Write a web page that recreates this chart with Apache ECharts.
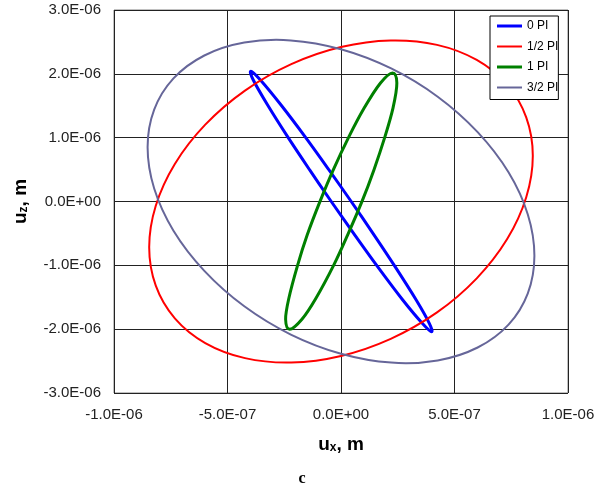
<!DOCTYPE html>
<html>
<head>
<meta charset="utf-8">
<script src="https://cdn.jsdelivr.net/npm/echarts@6/dist/echarts.min.js"></script>
<style>
  html, body { margin: 0; padding: 0; background: #fff; }
  #chart { width: 612px; height: 494px; }
</style>
</head>
<body>
<div id="chart"></div>
<script>
// values are in micrometres (1e-6 m); the axis labels print them in metres
const seriesNames = ['0 PI', '1/2 PI', '1 PI', '3/2 PI'];

const pi0 = [
  [-0.397, 2.041], [-0.356, 1.907], [-0.265, 1.515], [-0.157, 1.008], [-0.053, 0.495],
  [0.045, 0.000], [0.146, -0.526], [0.239, -1.024], [0.332, -1.547], [0.389, -1.908],
  [0.399, -2.041], [0.358, -1.908], [0.273, -1.547], [0.162, -1.024], [0.061, -0.526],
  [-0.043, 0.000], [-0.138, 0.495], [-0.234, 1.008], [-0.324, 1.515], [-0.387, 1.907]
];

const pi12 = [
  [0.845, 0.717], [0.816, 0.066], [0.732, -0.589], [0.598, -1.204], [0.423, -1.738],
  [0.219, -2.152], [0.000, -2.420], [-0.219, -2.523], [-0.423, -2.454], [-0.598, -2.218],
  [-0.732, -1.831], [-0.816, -1.319], [-0.845, -0.717], [-0.816, -0.066], [-0.732, 0.589],
  [-0.598, 1.204], [-0.423, 1.738], [-0.219, 2.152], [0.000, 2.420], [0.219, 2.523],
  [0.423, 2.454], [0.598, 2.218], [0.732, 1.831], [0.816, 1.319]
];

const pi1 = [
  [0.227, 2.013], [0.246, 1.856], [0.229, 1.463], [0.193, 1.008], [0.145, 0.495],
  [0.093, 0.005], [0.029, -0.526], [-0.032, -0.997], [-0.111, -1.520], [-0.172, -1.845],
  [-0.226, -2.002], [-0.244, -1.845], [-0.230, -1.520], [-0.191, -0.997], [-0.149, -0.526],
  [-0.092, 0.005], [-0.034, 0.495], [0.034, 1.008], [0.102, 1.463], [0.174, 1.856]
];

const pi32 = [
  [0.852, -0.849], [0.823, -1.438], [0.738, -1.928], [0.602, -2.287], [0.426, -2.490],
  [0.221, -2.524], [0.000, -2.385], [-0.221, -2.084], [-0.426, -1.641], [-0.602, -1.086],
  [-0.738, -0.457], [-0.823, 0.203], [-0.852, 0.849], [-0.823, 1.438], [-0.738, 1.928],
  [-0.602, 2.287], [-0.426, 2.490], [-0.221, 2.524], [0.000, 2.385], [0.221, 2.084],
  [0.426, 1.641], [0.602, 1.086], [0.738, 0.457], [0.823, -0.203]
];

const curves = [pi0, pi12, pi1, pi32];
const colors = ['#0000ff', '#ff0000', '#008000', '#666699'];
const widths = [3, 2, 3, 2];

function sci(v) {
  const s = (v * 1e-6).toExponential(1).split('e');
  const e = parseInt(s[1], 10);
  return s[0] + 'E' + (e < 0 ? '-' : '+') + String(Math.abs(e)).padStart(2, '0');
}

// closed smooth loop through the points, in pixel space
function loopRenderer(i) {
  return function (params, api) {
    if (params.dataIndex !== 0) return;
    const pts = curves[i].map(function (p) { return api.coord(p); });
    const n = pts.length;
    let d = 'M' + pts[0][0] + ',' + pts[0][1];
    for (let k = 0; k < n; k++) {
      const p0 = pts[(k - 1 + n) % n], p1 = pts[k], p2 = pts[(k + 1) % n], p3 = pts[(k + 2) % n];
      d += 'C' + (p1[0] + (p2[0] - p0[0]) / 6) + ',' + (p1[1] + (p2[1] - p0[1]) / 6) +
        ',' + (p2[0] - (p3[0] - p1[0]) / 6) + ',' + (p2[1] - (p3[1] - p1[1]) / 6) +
        ',' + p2[0] + ',' + p2[1];
    }
    d += 'Z';
    return {
      type: 'path',
      shape: { pathData: d },
      style: { fill: 'none', stroke: colors[i], lineWidth: widths[i], lineJoin: 'round' }
    };
  };
}

const chart = echarts.init(document.getElementById('chart'), null, { renderer: 'canvas' });

const labelFont = { color: '#222', fontFamily: 'Liberation Sans', fontSize: 15 };
const nameRich = {
  b: { fontFamily: 'Liberation Sans', fontWeight: 'bold', fontSize: 19, color: '#000' },
  s: { fontFamily: 'Liberation Sans', fontWeight: 'bold', fontSize: 12, color: '#000', padding: [6, 0, 0, 0] }
};

chart.setOption({
  animation: false,
  grid: {
    left: 114,
    right: 44,
    top: 10,
    bottom: 101,
    show: true,
    borderColor: '#808080',
    borderWidth: 1,
    backgroundColor: '#fff'
  },
  legend: {
    left: 490,
    top: 16,
    orient: 'vertical',
    data: seriesNames.map(function (n, i) {
      return { name: n, icon: widths[i] > 2 ? 'path://M0,0h25v3h-25z' : 'path://M0,0h25v2h-25z' };
    }),
    backgroundColor: '#fff',
    borderColor: '#000',
    borderWidth: 1,
    borderRadius: 0,
    padding: [4, 0, 6, 7],
    itemWidth: 25,
    itemHeight: 12,
    itemGap: 8.5,
    textStyle: { color: '#000', fontFamily: 'Liberation Sans', fontSize: 12 }
  },
  xAxis: {
    type: 'value',
    min: -1,
    max: 1,
    interval: 0.5,
    name: '{b|u}{s|x}{b|, m}',
    nameLocation: 'middle',
    nameGap: 42,
    nameTextStyle: { rich: nameRich },
    axisLine: { show: false },
    axisTick: { show: false },
    axisLabel: Object.assign({ margin: 14, formatter: sci }, labelFont),
    splitLine: { show: true, lineStyle: { color: '#222', width: 1 } }
  },
  yAxis: {
    type: 'value',
    min: -3,
    max: 3,
    interval: 1,
    name: '{b|u}{s|z}{b|, m}',
    nameLocation: 'middle',
    nameRotate: 90,
    nameGap: 84,
    nameTextStyle: { rich: nameRich },
    axisLine: { show: false },
    axisTick: { show: false },
    axisLabel: Object.assign({ margin: 13, formatter: sci }, labelFont),
    splitLine: { show: true, lineStyle: { color: '#222', width: 1 } }
  },
  graphic: [{
    type: 'text',
    x: 302,
    y: 479,
    style: { text: 'c', fill: '#000', font: 'bold 16px "Liberation Serif"', textAlign: 'center', textVerticalAlign: 'middle' }
  }],
  series: curves.map(function (pts, i) {
    return {
      name: seriesNames[i],
      type: 'custom',
      data: pts,
      itemStyle: { color: colors[i] },
      renderItem: loopRenderer(i)
    };
  })
});
</script>
</body>
</html>
